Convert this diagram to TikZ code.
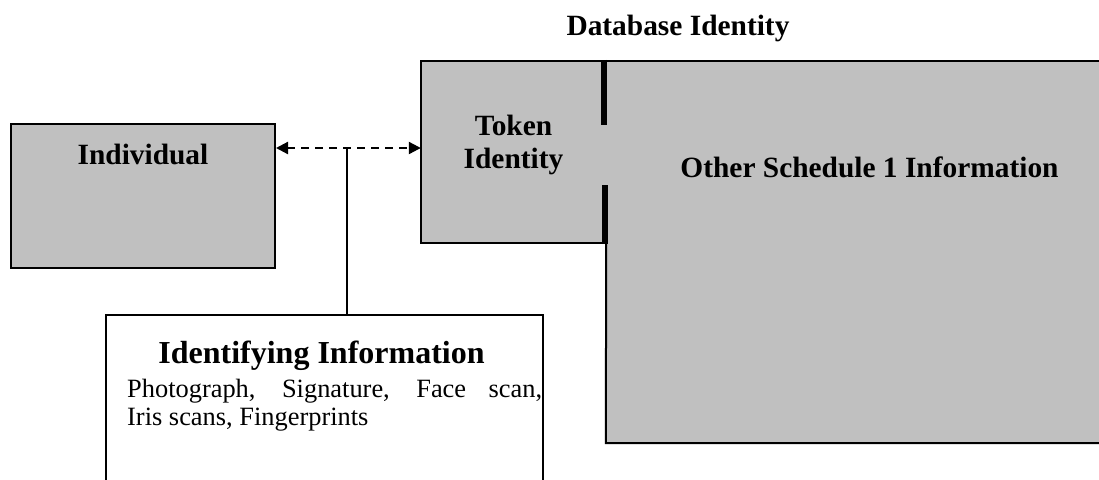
\documentclass[tikz,border=0pt]{standalone}
\usepackage{fontspec}
\setmainfont{Liberation Serif}
\usetikzlibrary{arrows.meta,calc}
\definecolor{boxgray}{RGB}{192,192,192}
\begin{document}
\begin{tikzpicture}[x=1pt,y=-1pt,
  grayfill/.style={rectangle,fill=boxgray,draw=none,inner sep=0pt},
  outline/.style={line width=2pt,line join=miter},
  sepbar/.style={line width=6pt},
  heading/.style={inner sep=0pt,font=\bfseries\fontsize{29.4}{33}\selectfont},
  bigheading/.style={inner sep=0pt,font=\bfseries\fontsize{32}{36}\selectfont},
  body/.style={inner sep=0pt,font=\fontsize{26.4}{29}\selectfont},
  link/.style={line width=2.2pt,dash pattern=on 8pt off 6pt,
    {Triangle[length=12pt,width=12pt]}-{Triangle[length=12pt,width=12pt]}}]
\useasboundingbox (0,0) rectangle (1099,479);

% individual
\node[grayfill,draw=black,line width=2pt,minimum width=264pt,minimum height=144pt] (ind) at (143,196) {};

% database identity: token part and remaining schedule data (runs on past the right margin)
\node[grayfill,minimum width=185pt,minimum height=182pt] (token) at (513.5,152) {};
\node[grayfill,minimum width=514pt,minimum height=382pt] (other) at (863,252) {};
\draw[outline] (token.south east) -- (token.south west) -- (token.north west) -- (other.north east);
\draw[outline] (token.south east) -- (other.south west) -- (other.south east);
\draw[sepbar] ($(token.north east)+(-2,-1)$) -- ++(0,65);
\draw[sepbar] ($(token.south east)+(-1,1)$) -- ++(0,-59);

% identifying information box (open at the bottom)
\node[rectangle,fill=white,inner sep=0pt,minimum width=437pt,minimum height=180pt] (idbox) at (324.5,405) {};
\draw[outline] (idbox.south west) -- (idbox.north west) -- (idbox.north east) -- (idbox.south east);

% links
\coordinate (junction) at (347,148);
\draw[link] (ind.east |- junction) -- (token.west |- junction);
\draw[line width=2pt] (junction) -- (junction |- idbox.north);

% labels
\node[heading,anchor=base] (dbtitle) at (678,35) {Database Identity};
\node[heading,anchor=base] (indlabel) at (143,164) {Individual};
\node[heading,anchor=base] (tokline1) at (513.5,135) {Token};
\node[heading,anchor=base] (tokline2) at (513.5,168) {Identity};
\node[heading,anchor=base] (otherlabel) at (869.5,177) {Other Schedule 1 Information};
\node[bigheading,anchor=base] (idtitle) at (321.5,363) {Identifying Information};
\node[body,anchor=base west] (idline1) at (127,397) {\makebox[415pt][s]{Photograph, Signature, Face scan,}};
\node[body,anchor=base west] (idline2) at (127,425) {Iris scans, Fingerprints};
\end{tikzpicture}
\end{document}
